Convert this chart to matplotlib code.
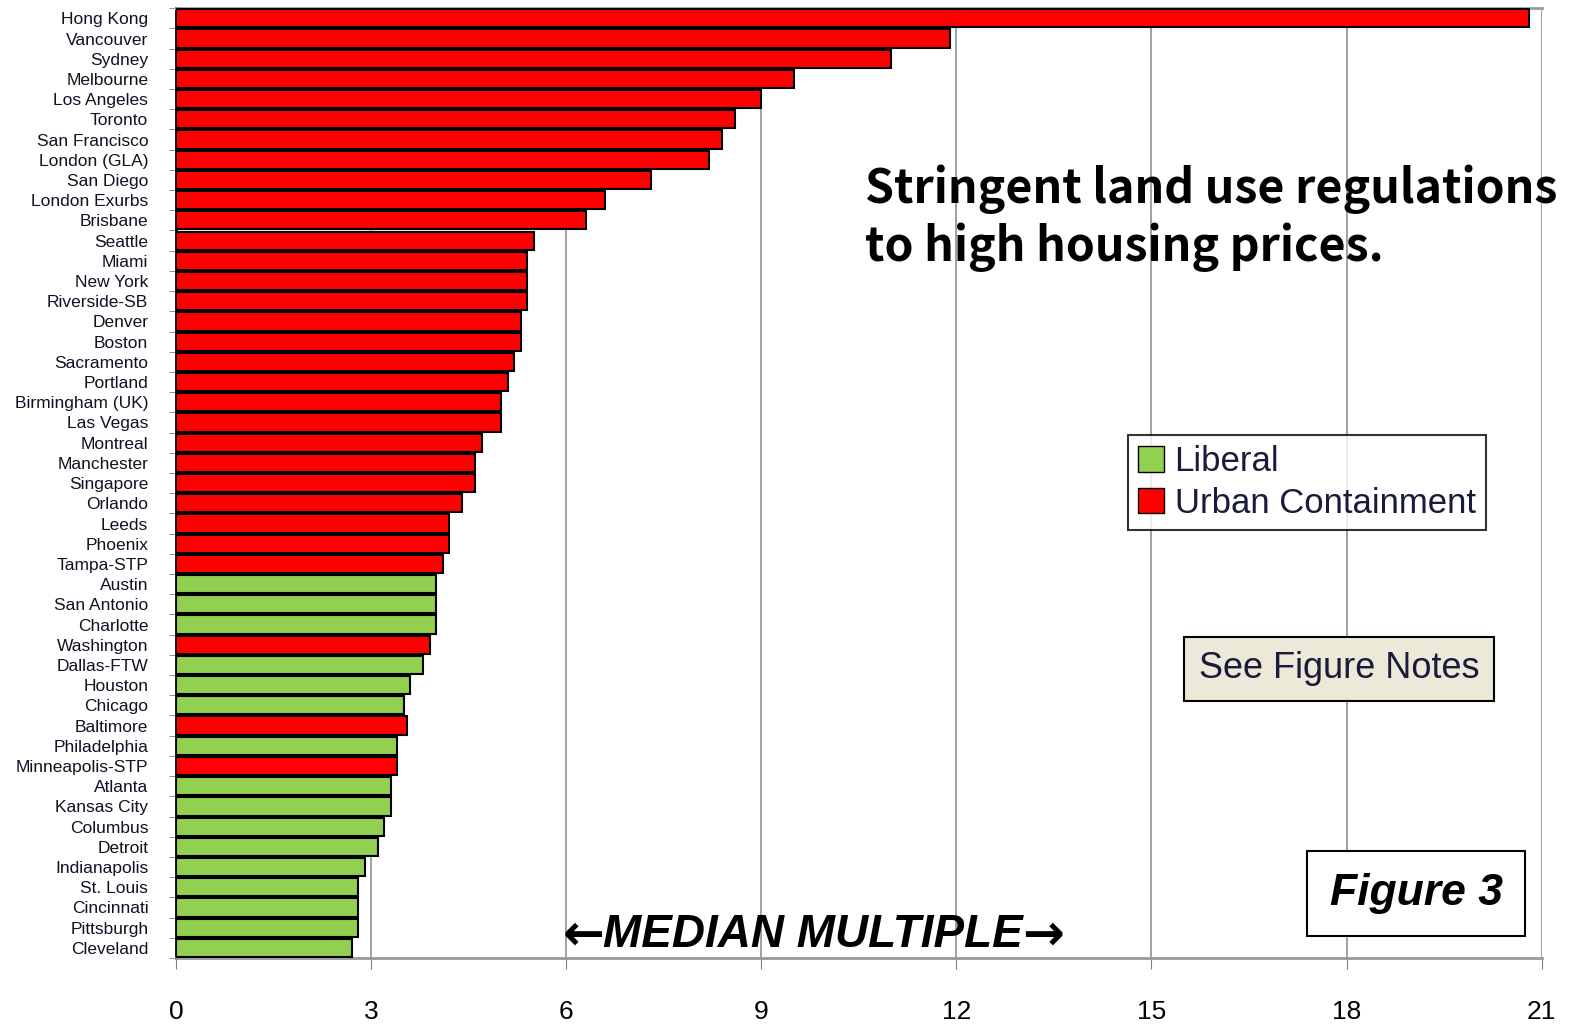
import matplotlib
matplotlib.use('Agg')
from matplotlib import pyplot as plt
from matplotlib.patches import Patch

cities = ['Hong Kong', 'Vancouver', 'Sydney', 'Melbourne', 'Los Angeles', 'Toronto',
          'San Francisco', 'London (GLA)', 'San Diego', 'London Exurbs', 'Brisbane',
          'Seattle', 'Miami', 'New York', 'Riverside-SB', 'Denver', 'Boston',
          'Sacramento', 'Portland', 'Birmingham (UK)', 'Las Vegas', 'Montreal',
          'Manchester', 'Singapore', 'Orlando', 'Leeds', 'Phoenix', 'Tampa-STP',
          'Austin', 'San Antonio', 'Charlotte', 'Washington', 'Dallas-FTW', 'Houston',
          'Chicago', 'Baltimore', 'Philadelphia', 'Minneapolis-STP', 'Atlanta',
          'Kansas City', 'Columbus', 'Detroit', 'Indianapolis', 'St. Louis',
          'Cincinnati', 'Pittsburgh', 'Cleveland']
multiple = [20.8, 11.9, 11.0, 9.5, 9.0, 8.6, 8.4, 8.2, 7.3, 6.6, 6.3,
            5.5, 5.4, 5.4, 5.4, 5.3, 5.3, 5.2, 5.1, 5.0, 5.0, 4.7,
            4.6, 4.6, 4.4, 4.2, 4.2, 4.1, 4.0, 4.0, 4.0, 3.9, 3.8, 3.6,
            3.5, 3.55, 3.4, 3.4, 3.3, 3.3, 3.2, 3.1, 2.9, 2.8,
            2.8, 2.8, 2.7]
# U = urban containment, L = liberal
regime = ['U'] * 28 + ['L', 'L', 'L', 'U', 'L', 'L', 'L', 'U', 'L', 'U'] + ['L'] * 9
xticks = [0, 3, 6, 9, 12, 15, 18, 21]

red = '#ff0000'
green = '#92d050'
arial = ['Liberation Sans', 'DejaVu Sans']

fig = plt.figure(figsize=(15.76, 10.26), dpi=100)
ax = fig.add_axes([0.1117, 0.0663, 0.8665, 0.9257])

cols = [red if r == 'U' else green for r in regime]
ypos = list(range(len(cities)))
ax.barh(ypos, multiple, height=0.9, color=cols, edgecolor='black', linewidth=1.5, zorder=3)

ax.set_xlim(0, 21)
ax.set_ylim(len(cities) - 0.5, -0.5)
ax.set_xticks(xticks)
ax.set_xticklabels([str(t) for t in xticks], family=arial, fontsize=19)
ax.tick_params(axis='x', length=8, color='#808080', pad=22)
ax.set_yticks(ypos)
ax.set_yticklabels(cities, family=arial, fontsize=12.5, color='#111122')
ax.tick_params(axis='y', length=0, pad=20)
ax.set_yticks([i - 0.5 for i in range(len(cities) + 1)], minor=True)
ax.tick_params(axis='y', which='minor', length=5, color='#808080')
ax.grid(axis='x', color='#999999', linewidth=1.3, zorder=0)

ax.spines['left'].set_color('black')
ax.spines['left'].set_linewidth(2)
for s in ['top', 'bottom']:
    ax.spines[s].set_color('#999999')
    ax.spines[s].set_linewidth(2)
ax.spines['right'].set_visible(False)

fig.text(0.549, 0.787, 'Stringent land use regulations\nto high housing prices.',
         family=['Noto Sans CJK KR', 'DejaVu Sans'], fontweight='bold', fontsize=33.5,
         va='center', ha='left', linespacing=1.22)

handles = [Patch(facecolor=green, edgecolor='black', label='Liberal'),
           Patch(facecolor=red, edgecolor='black', label='Urban Containment')]
leg = ax.legend(handles=handles, loc='upper left', bbox_to_anchor=(0.6969, 0.551),
                prop={'family': arial, 'size': 25}, frameon=True, fancybox=False,
                edgecolor='black', handlelength=0.75, handleheight=0.75,
                handletextpad=0.3, borderpad=0.3, labelspacing=0.25, borderaxespad=0)
leg.get_frame().set_linewidth(1.5)
leg.set_zorder(5)
for t in leg.get_texts():
    t.set_color('#1a1a3a')

fig.text(0.8495, 0.348, 'See Figure Notes', family=arial, fontsize=26, ha='center',
         va='center', color='#1a1a3a', zorder=6,
         bbox=dict(boxstyle='square,pad=0.4', facecolor='#ece9d8', edgecolor='black',
                   linewidth=1.5))

fig.text(0.8985, 0.129, 'Figure 3', family=arial, fontsize=32, fontweight='bold',
         fontstyle='italic', ha='center', va='center', zorder=6,
         bbox=dict(boxstyle='square,pad=0.5', facecolor='white', edgecolor='black',
                   linewidth=1.5))

ytxt = 0.0885
fig.text(0.516, ytxt, 'MEDIAN MULTIPLE', family=arial, fontsize=33,
         fontweight='bold', fontstyle='italic', ha='center', va='center', zorder=6)
fig.text(0.3835, ytxt, '\u2190', family=['DejaVu Sans'], fontsize=36,
         fontweight='bold', ha='right', va='center', zorder=6)
fig.text(0.6485, ytxt, '\u2192', family=['DejaVu Sans'], fontsize=36,
         fontweight='bold', ha='left', va='center', zorder=6)

fig.savefig('out.png', dpi=100)
